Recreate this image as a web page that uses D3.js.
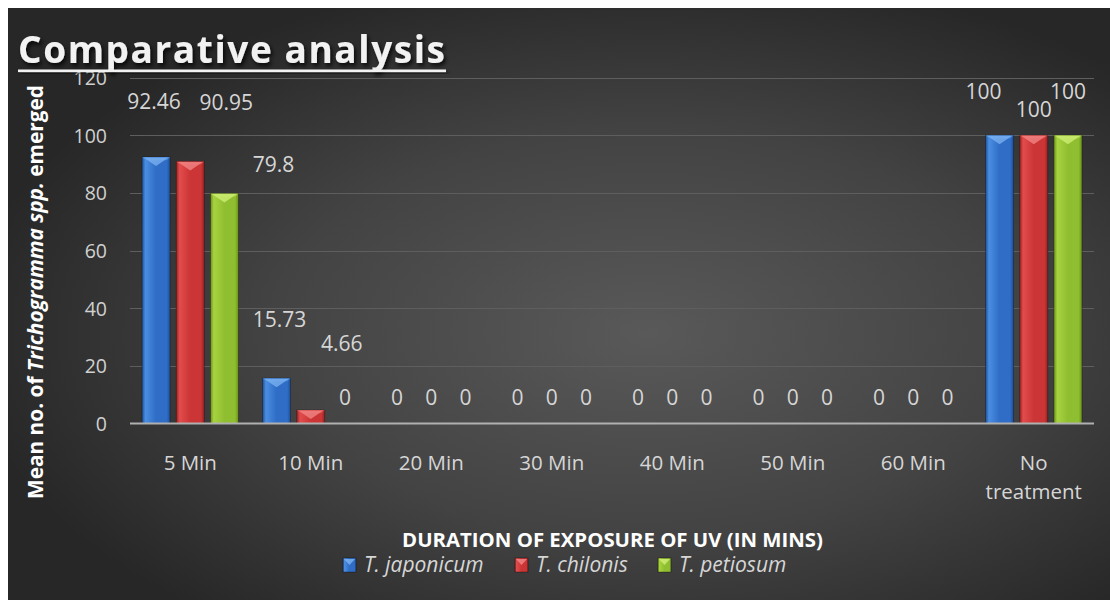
<!DOCTYPE html>
<html>
<head>
<meta charset="utf-8">
<script src="https://cdn.jsdelivr.net/npm/d3@7"></script>
<style>
  html, body { margin: 0; padding: 0; background: #ffffff; }
  svg { display: block; }
</style>
</head>
<body>
<svg id="chart" width="1110" height="600"></svg>
<script>
// Exposure durations on the category axis
const categories = ["5 Min", "10 Min", "20 Min", "30 Min", "40 Min", "50 Min", "60 Min", "No treatment"];
// Species (series)
const seriesNames = ["T. japonicum", "T. chilonis", "T. petiosum"];
// Mean number emerged per species, one value per duration
const japonicum = [92.46, 15.73, 0, 0, 0, 0, 0, 100];
const chilonis  = [90.95, 4.66, 0, 0, 0, 0, 0, 100];
const petiosum  = [79.8, 0, 0, 0, 0, 0, 0, 100];
// Value axis ticks
const yTicks = [0, 20, 40, 60, 80, 100, 120];

// Hand-placed data labels: [categoryIndex, seriesIndex, dx, dy] relative to the default spot
const labelNudge = [
  [0, 0, -2, -29], [0, 1, 36, -33], [0, 2, 49, -3],
  [1, 0, 3, -33], [1, 1, 31, -40],
  [7, 0, -16, -18], [7, 2, 0, -18]
];

const palette = [
  { base: "#2f6dc6", light: "#4a8ee2", dark: "#1f4f96", tip: "#7fb4f2" },
  { base: "#cc3535", light: "#e24c4c", dark: "#962222", tip: "#f28a8a" },
  { base: "#8fbe30", light: "#a8d340", dark: "#6a901c", tip: "#d2f07a" }
];

const values = [japonicum, chilonis, petiosum];
const svg = d3.select("#chart");
const FONT = "'Open Sans', 'Noto Sans', sans-serif";
const defs = svg.append("defs");

// Dark radial backdrop
const bg = defs.append("radialGradient").attr("id", "bgGrad")
  .attr("cx", "0.58").attr("cy", "0.55").attr("r", "0.62");
bg.append("stop").attr("offset", "0").attr("stop-color", "#595959");
bg.append("stop").attr("offset", "0.55").attr("stop-color", "#434343");
bg.append("stop").attr("offset", "1").attr("stop-color", "#272727");

// Horizontal shading for bevelled bars
palette.forEach((p, i) => {
  const g = defs.append("linearGradient").attr("id", "bar" + i)
    .attr("x1", "0").attr("x2", "1").attr("y1", "0").attr("y2", "0");
  g.append("stop").attr("offset", "0").attr("stop-color", p.dark);
  g.append("stop").attr("offset", "0.12").attr("stop-color", p.light);
  g.append("stop").attr("offset", "0.5").attr("stop-color", p.base);
  g.append("stop").attr("offset", "0.88").attr("stop-color", p.base);
  g.append("stop").attr("offset", "1").attr("stop-color", p.dark);
});

const shadow = defs.append("filter").attr("id", "titleShadow")
  .attr("x", "-10%").attr("y", "-30%").attr("width", "130%").attr("height", "170%");
shadow.append("feDropShadow").attr("dx", 2).attr("dy", 3).attr("stdDeviation", 2)
  .attr("flood-color", "#000").attr("flood-opacity", 0.8);

svg.append("rect").attr("x", 8).attr("y", 8).attr("width", 1102).attr("height", 592)
  .attr("fill", "url(#bgGrad)");

// Scales
const plot = { left: 130, right: 1094, top: 77.7, bottom: 423.5 };
const x0 = d3.scaleBand().domain(categories).range([plot.left, plot.right])
  .paddingInner(0.2).paddingOuter(0.1);
const x1 = d3.scaleBand().domain(seriesNames).range([0, x0.bandwidth()]).paddingInner(0.18);
const y = d3.scaleLinear().domain([0, 120]).range([plot.bottom, plot.top]);

// Gridlines
svg.append("g").selectAll("line").data(yTicks.filter(t => t > 0)).join("line")
  .attr("x1", plot.left).attr("x2", plot.right)
  .attr("y1", d => Math.round(y(d)) + 0.5).attr("y2", d => Math.round(y(d)) + 0.5)
  .attr("stroke", "#5e5e5e").attr("stroke-width", 1);

// Y axis tick labels
const yAxis = d3.axisLeft(y).tickValues(yTicks).tickSize(0).tickPadding(0);
const yg = svg.append("g").attr("transform", "translate(107,0)").call(yAxis);
yg.select(".domain").remove();
yg.selectAll("text").attr("font-family", FONT).attr("font-size", 19.5)
  .attr("fill", "#d0d0d0").attr("dy", "0.35em");

// Bars
const rows = [];
categories.forEach((c, ci) => seriesNames.forEach((s, si) => rows.push({ c, ci, s, si, v: values[si][ci] })));

const barG = svg.append("g");
rows.filter(d => d.v > 0).forEach(d => {
  const bx = x0(d.c) + x1(d.s);
  const w = x1.bandwidth();
  const top = y(d.v);
  const h = y(0) - top;
  const p = palette[d.si];
  const g = barG.append("g");
  g.append("rect").attr("x", bx).attr("y", top).attr("width", w).attr("height", h)
    .attr("fill", "url(#bar" + d.si + ")").attr("stroke", "rgba(0,0,0,0.35)").attr("stroke-width", 0.8);
  const b = Math.min(9, h);
  // top bevel facets
  g.append("path")
    .attr("d", `M${bx},${top} L${bx + w},${top} L${bx + w - 3},${top + b * 0.35} L${bx + 3},${top + b * 0.35} Z`)
    .attr("fill", p.light).attr("opacity", 0.7);
  g.append("path")
    .attr("d", `M${bx + 1.5},${top + 0.5} L${bx + w - 1.5},${top + 0.5} L${bx + w / 2},${top + b} Z`)
    .attr("fill", p.tip).attr("opacity", 0.75);
});

// Zero axis line
svg.append("line").attr("x1", plot.left).attr("x2", plot.right)
  .attr("y1", y(0)).attr("y2", y(0)).attr("stroke", "#b0b0b0").attr("stroke-width", 2.2);

// Data labels
const nudge = new Map(labelNudge.map(([ci, si, dx, dy]) => [ci + "-" + si, [dx, dy]]));
svg.append("g").selectAll("text").data(rows).join("text")
  .attr("x", d => x0(d.c) + x1(d.s) + x1.bandwidth() / 2 + (nudge.get(d.ci + "-" + d.si) || [0, 0])[0])
  .attr("y", d => y(d.v) - 26 + (nudge.get(d.ci + "-" + d.si) || [0, 0])[1])
  .attr("dy", "0.35em").attr("text-anchor", "middle")
  .attr("font-family", FONT).attr("font-size", 21).attr("fill", "#d6d6d6")
  .text(d => d3.format("")(d.v));

// Category labels
const catG = svg.append("g");
categories.forEach(c => {
  const parts = c === "No treatment" ? ["No", "treatment"] : [c];
  const t = catG.append("text").attr("x", x0(c) + x0.bandwidth() / 2).attr("y", 463)
    .attr("text-anchor", "middle").attr("font-family", FONT).attr("font-size", 20.5)
    .attr("fill", "#d6d6d6");
  parts.forEach((p, i) => t.append("tspan").attr("x", x0(c) + x0.bandwidth() / 2)
    .attr("dy", i === 0 ? "0.35em" : "1.4em").text(p));
});

// fit a text element to a target width by scaling its font size
function fitWidth(sel, target) {
  const fs = parseFloat(sel.attr("font-size"));
  const w = sel.node().getComputedTextLength();
  sel.attr("font-size", fs * target / w);
}

// Title
svg.append("text").attr("x", 18).attr("y", 63)
  .attr("font-family", FONT).attr("font-weight", 700).attr("font-size", 37)
  .attr("fill", "#f2f2f2").attr("filter", "url(#titleShadow)")
  .attr("textLength", 427).attr("lengthAdjust", "spacing")
  .text("Comparative analysis");
svg.append("rect").attr("x", 18).attr("y", 69.5).attr("width", 428).attr("height", 2.6)
  .attr("fill", "#f2f2f2").attr("filter", "url(#titleShadow)");

// Y axis title
const yt = svg.append("text").attr("transform", "translate(43,292) rotate(-90)")
  .attr("text-anchor", "middle").attr("font-family", FONT).attr("font-weight", 700)
  .attr("font-size", 18).attr("fill", "#ffffff");
yt.append("tspan").text("Mean no. of ");
yt.append("tspan").attr("font-style", "italic").text("Trichogramma spp.");
yt.append("tspan").text(" emerged");
fitWidth(yt, 414);

// X axis title
const xt = svg.append("text").attr("x", 612.5).attr("y", 547).attr("text-anchor", "middle")
  .attr("font-family", FONT).attr("font-weight", 700).attr("font-size", 18)
  .attr("fill", "#ffffff").text("DURATION OF EXPOSURE OF UV (IN MINS)");
fitWidth(xt, 421);

// Legend
const legendX = [343, 515, 658];
const legend = svg.append("g");
seriesNames.forEach((s, i) => {
  const p = palette[i];
  const lx = legendX[i], ly = 558;
  legend.append("rect").attr("x", lx).attr("y", ly).attr("width", 13).attr("height", 14)
    .attr("fill", "url(#bar" + i + ")").attr("stroke", "rgba(0,0,0,0.4)").attr("stroke-width", 0.8);
  legend.append("path").attr("d", `M${lx + 1},${ly + 1} L${lx + 12},${ly + 1} L${lx + 6.5},${ly + 7} Z`)
    .attr("fill", p.tip).attr("opacity", 0.8);
  legend.append("text").attr("x", lx + 21).attr("y", ly + 7).attr("dy", "0.35em")
    .attr("font-family", FONT).attr("font-style", "italic").attr("font-size", 21)
    .attr("fill", "#d6d6d6").text(s);
});
</script>
</body>
</html>
